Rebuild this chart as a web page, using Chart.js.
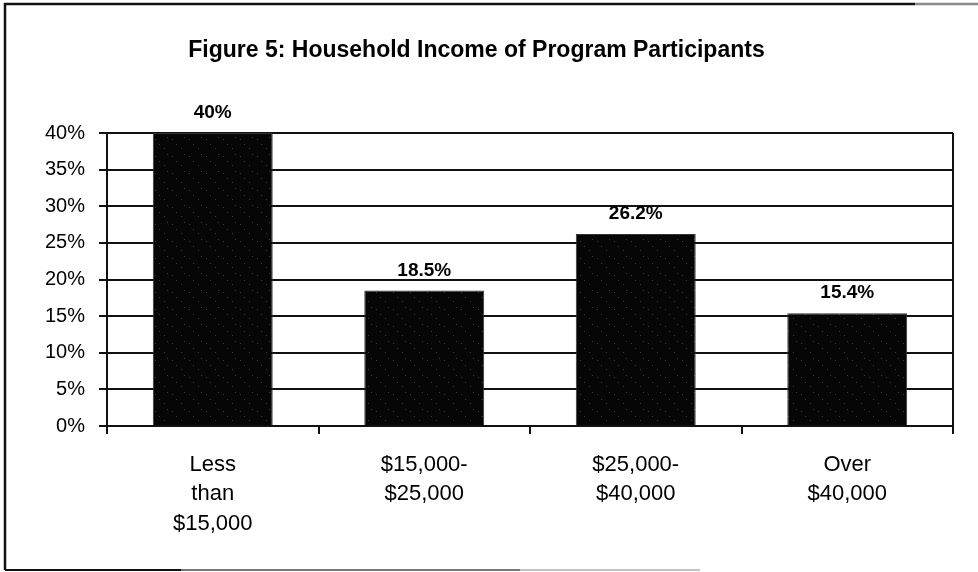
<!DOCTYPE html>
<html lang="en">
<head>
<meta charset="utf-8">
<title>Household Income of Program Participants</title>
<script src="https://cdn.jsdelivr.net/npm/chart.js@4/dist/chart.umd.min.js"></script>
<style>
    html, body { margin: 0; padding: 0; background: #fff; }
    #chart-wrapper { width: 978px; height: 572px; }
</style>
</head>
<body>
<div id="chart-wrapper"><canvas id="incomeChart"></canvas></div>
<script>
/**
 * Data
 */
const categories = [
    ['Less', 'than', '$15,000'],
    ['$15,000-', '$25,000'],
    ['$25,000-', '$40,000'],
    ['Over', '$40,000']
];
const participantShares = [40, 18.5, 26.2, 15.4];
const yTickValues = [0, 5, 10, 15, 20, 25, 30, 35, 40];

Chart.defaults.font.family = "'Liberation Sans', Arial, sans-serif";
Chart.defaults.color = '#000';

function percent(value) {
    return value + '%';
}

/**
 * Dark, slightly speckled fill for the bars
 */
function barTexture() {
    const tile = document.createElement('canvas');
    tile.width = 17;
    tile.height = 17;
    const ctx = tile.getContext('2d');
    ctx.fillStyle = '#060606';
    ctx.fillRect(0, 0, 17, 17);
    ctx.fillStyle = '#3a3a3a';
    [[2, 3], [11, 12], [14, 1], [6, 8]].forEach(function (p) {
        ctx.fillRect(p[0], p[1], 1, 1);
    });
    return ctx.createPattern(tile, 'repeat');
}

/**
 * Page frame, right edge of the plot and value labels
 */
const framePlugin = {
    id: 'frame',
    beforeDraw: function (chart) {
        const ctx = chart.ctx;
        ctx.save();
        ctx.fillStyle = '#fff';
        ctx.fillRect(0, 0, chart.width, chart.height);

        ctx.lineWidth = 2.5;
        ctx.strokeStyle = '#111';
        ctx.beginPath();
        ctx.moveTo(5, 570);
        ctx.lineTo(5, 4);
        ctx.lineTo(915, 4);
        ctx.stroke();
        ctx.strokeStyle = '#8a8a8a';
        ctx.beginPath();
        ctx.moveTo(915, 4);
        ctx.lineTo(chart.width, 4);
        ctx.stroke();

        ctx.lineWidth = 2;
        ctx.strokeStyle = '#111';
        ctx.beginPath();
        ctx.moveTo(5, 570);
        ctx.lineTo(181, 570);
        ctx.stroke();
        ctx.strokeStyle = '#777';
        ctx.beginPath();
        ctx.moveTo(181, 570);
        ctx.lineTo(520, 570);
        ctx.stroke();
        ctx.strokeStyle = '#c4c4c4';
        ctx.beginPath();
        ctx.moveTo(520, 570);
        ctx.lineTo(700, 570);
        ctx.stroke();
        ctx.restore();
    },
    afterDraw: function (chart) {
        const ctx = chart.ctx;
        const area = chart.chartArea;
        ctx.save();
        ctx.lineWidth = 2;
        ctx.strokeStyle = '#111';
        ctx.beginPath();
        ctx.moveTo(area.right, area.top);
        ctx.lineTo(area.right, area.bottom + 8);
        ctx.stroke();

        ctx.fillStyle = '#000';
        ctx.font = "bold 19px 'Liberation Sans', Arial, sans-serif";
        ctx.textAlign = 'center';
        ctx.textBaseline = 'middle';
        chart.getDatasetMeta(0).data.forEach(function (bar, i) {
            ctx.fillText(percent(participantShares[i]), bar.x, bar.y - 20);
        });
        ctx.restore();
    }
};

new Chart(document.getElementById('incomeChart'), {
    type: 'bar',
    data: {
        labels: categories,
        datasets: [{
            data: participantShares,
            backgroundColor: barTexture(),
            borderColor: '#333',
            borderWidth: 1,
            barPercentage: 0.567,
            categoryPercentage: 1
        }]
    },
    options: {
        responsive: true,
        maintainAspectRatio: false,
        animation: false,
        layout: { padding: { top: 0, right: 25, bottom: 0, left: 0 } },
        plugins: {
            legend: { display: false },
            tooltip: { enabled: false },
            title: {
                display: true,
                text: 'Figure 5: Household Income of Program Participants',
                color: '#000',
                font: { size: 23, weight: 'bold' },
                padding: { top: 37, bottom: 68.4 }
            }
        },
        scales: {
            x: {
                afterFit: function (scale) { scale.height = 146; },
                grid: {
                    drawOnChartArea: false,
                    drawTicks: true,
                    tickLength: 8,
                    color: '#111',
                    lineWidth: 2
                },
                border: { display: true, color: '#111', width: 2 },
                ticks: {
                    autoSkip: false,
                    maxRotation: 0,
                    padding: 16,
                    color: '#000',
                    font: { size: 22, lineHeight: 1.34 }
                }
            },
            y: {
                min: 0,
                max: 40,
                afterFit: function (scale) { scale.width = 107; },
                afterBuildTicks: function (scale) {
                    scale.ticks = yTickValues.map(function (v) { return { value: v }; });
                },
                grid: {
                    color: '#111',
                    lineWidth: 2,
                    drawTicks: true,
                    tickLength: 8
                },
                border: { display: true, color: '#111', width: 2 },
                ticks: {
                    padding: 14,
                    color: '#000',
                    font: { size: 20 },
                    callback: function (value) { return percent(value); }
                }
            }
        }
    },
    plugins: [framePlugin]
});
</script>
</body>
</html>
